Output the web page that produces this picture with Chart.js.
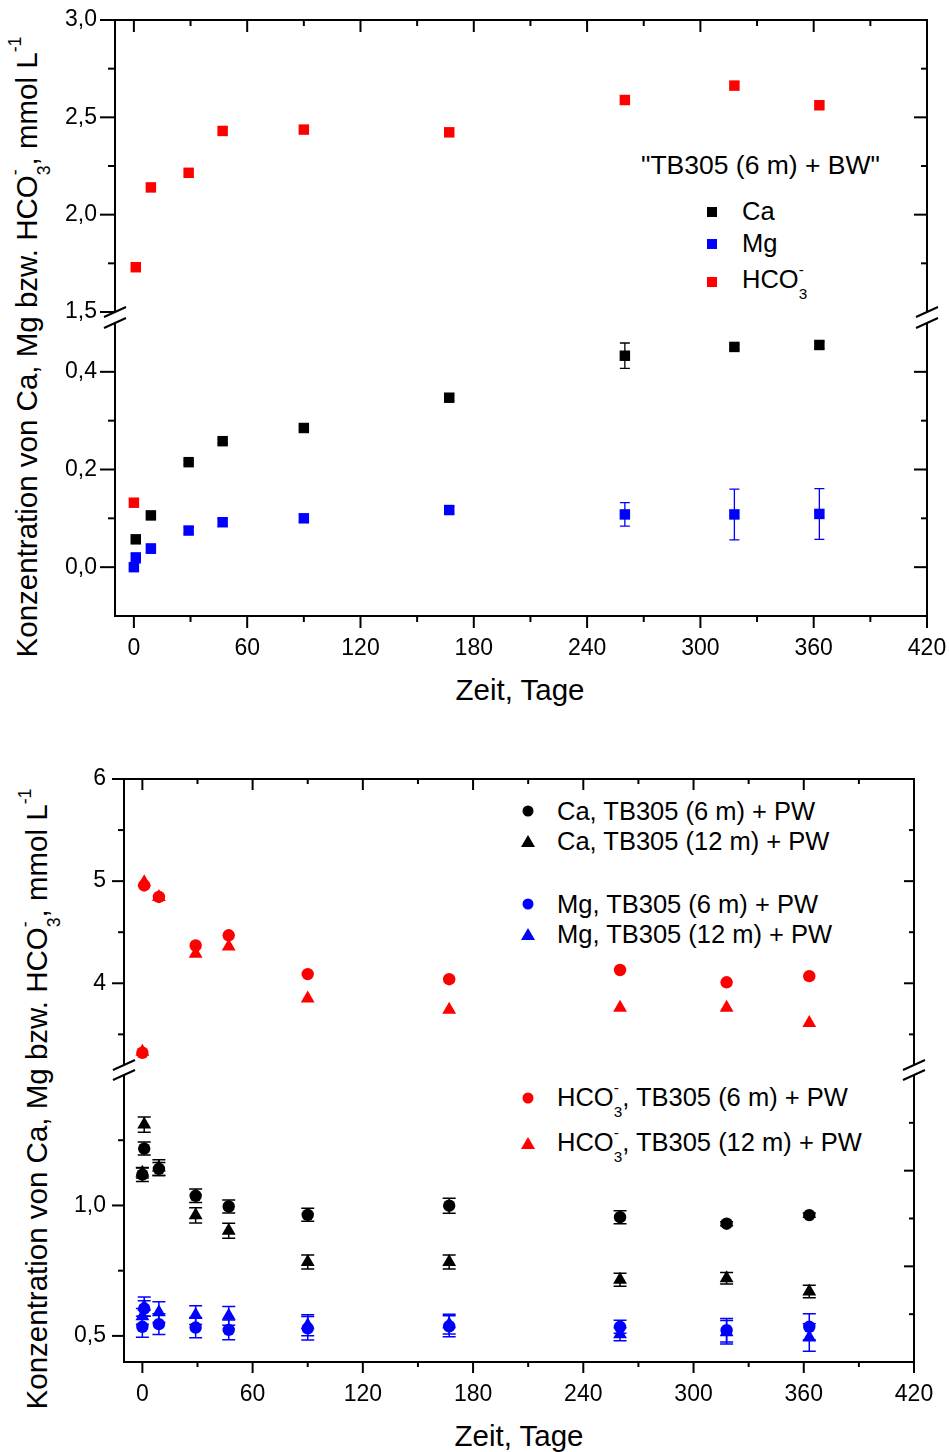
<!DOCTYPE html>
<html lang="de">
<head>
<meta charset="utf-8">
<title>Ca, Mg und HCO3 im Zeitverlauf</title>
<script src="https://cdn.jsdelivr.net/npm/chart.js@4.4.0/dist/chart.umd.min.js"></script>
<style>
  html, body { margin: 0; padding: 0; background: #fff; }
  body {
    position: relative; width: 949px; height: 1452px; overflow: hidden;
    font-family: Arial, "Liberation Sans", sans-serif; color: #000;
  }
  canvas { position: absolute; left: 0; }
  .lbl { position: absolute; white-space: nowrap; line-height: 1; font-size: 25.5px; transform: translateY(-50%); }
  .title { position: absolute; white-space: nowrap; line-height: 1; font-size: 29.5px; transform: translate(-50%, -50%); }
  .ytitle { transform: translate(-50%, -50%) rotate(-90deg); }
  .sup { font-size: .6em; line-height: 0; vertical-align: .9em; }
  .sub { font-size: .6em; line-height: 0; vertical-align: -.75em; margin-left: -.333em; }
  .mk { position: absolute; transform: translate(-50%, -50%); }
  .sq { width: 10px; height: 10px; }
  .ci { width: 11px; height: 11px; border-radius: 50%; }
  .tri { width: 0; height: 0; border-left: 7px solid transparent; border-right: 7px solid transparent; border-bottom: 12px solid; }
</style>
</head>
<body>

<!-- axis titles -->
<div class="title" style="left:520px;top:690px">Zeit, Tage</div>
<div class="title ytitle" style="left:28px;top:347px">Konzentration von Ca, Mg bzw. HCO<span class="sup">-</span><span class="sub">3</span>, mmol L<span class="sup">-1</span></div>
<div class="title" style="left:519px;top:1436px">Zeit, Tage</div>
<div class="title ytitle" style="left:38px;top:1099px">Konzentration von Ca, Mg bzw. HCO<span class="sup">-</span><span class="sub">3</span>, mmol L<span class="sup">-1</span></div>

<!-- legend, batch test with Brunnenwasser -->
<div class="lbl" style="left:641px;top:165px;font-size:26.5px">"TB305 (6 m) + BW"</div>
<div class="mk sq" style="left:712px;top:212px;background:#000"></div>
<div class="lbl" style="left:742px;top:212px">Ca</div>
<div class="mk sq" style="left:712px;top:244px;background:#0000ff"></div>
<div class="lbl" style="left:742px;top:244px">Mg</div>
<div class="mk sq" style="left:712px;top:282px;background:#ff0000"></div>
<div class="lbl" style="left:742px;top:281px">HCO<span class="sup">-</span><span class="sub">3</span></div>

<!-- legend, batch tests with Porenwasser -->
<div class="mk ci" style="left:528px;top:811px;background:#000"></div>
<div class="lbl" style="left:557px;top:812px">Ca, TB305 (6 m) + PW</div>
<div class="mk tri" style="left:528px;top:841px;color:#000"></div>
<div class="lbl" style="left:557px;top:842px">Ca, TB305 (12 m) + PW</div>
<div class="mk ci" style="left:528px;top:904px;background:#0000ff"></div>
<div class="lbl" style="left:557px;top:905px">Mg, TB305 (6 m) + PW</div>
<div class="mk tri" style="left:528px;top:934px;color:#0000ff"></div>
<div class="lbl" style="left:557px;top:935px">Mg, TB305 (12 m) + PW</div>
<div class="mk ci" style="left:528px;top:1098px;background:#ff0000"></div>
<div class="lbl" style="left:557px;top:1099px">HCO<span class="sup">-</span><span class="sub">3</span>, TB305 (6 m) + PW</div>
<div class="mk tri" style="left:528px;top:1143px;color:#ff0000"></div>
<div class="lbl" style="left:557px;top:1144px">HCO<span class="sup">-</span><span class="sub">3</span>, TB305 (12 m) + PW</div>

<script>
// --- measured data -------------------------------------------------------

// TB305 (6 m) + BW, sampling days and concentrations in mmol/L
const bwDays  = [0, 1, 9, 29, 47, 90, 167, 260, 318, 363];
const bwCa    = [null, 0.057, 0.106, 0.215, 0.258, 0.285, 0.347, 0.433, 0.451, 0.455];
const bwCaErr = [0, 0.003, 0.004, 0.004, 0.004, 0.005, 0.006, 0.026, 0.005, 0.007];
const bwMg    = [0.000, 0.019, 0.038, 0.075, 0.092, 0.100, 0.117, 0.108, 0.108, 0.109];
const bwMgErr = [0.004, 0.010, 0.009, 0.007, 0.008, 0.008, 0.008, 0.024, 0.052, 0.052];
const bwHco3  = [0.132, 1.73, 2.14, 2.215, 2.43, 2.437, 2.423, 2.589, 2.663, 2.562];

// TB305 (6 m / 12 m) + PW
const pwDays    = [0, 1, 9, 29, 47, 90, 167, 260, 318, 363];
const pwCa6     = [1.118, 1.218, 1.140, 1.037, 0.996, 0.964, 0.999, 0.955, 0.930, 0.963];
const pwCa6Err  = [0.026, 0.025, 0.025, 0.026, 0.025, 0.025, 0.029, 0.025, 0.008, 0.008];
const pwCa12    = [1.125, 1.310, 1.145, 0.962, 0.903, 0.783, 0.783, 0.715, 0.721, 0.670];
const pwCa12Err = [0.020, 0.029, 0.030, 0.029, 0.029, 0.027, 0.027, 0.025, 0.022, 0.024];
const pwMg6     = [0.535, 0.605, 0.545, 0.532, 0.523, 0.529, 0.537, 0.535, 0.522, 0.535];
const pwMg6Err  = [0.040, 0.030, 0.040, 0.039, 0.038, 0.045, 0.040, 0.025, 0.045, 0.050];
const pwMg12    = [0.575, 0.612, 0.591, 0.580, 0.577, 0.541, 0.545, 0.506, 0.514, 0.494];
const pwMg12Err = [0.030, 0.037, 0.040, 0.036, 0.036, 0.040, 0.038, 0.025, 0.045, 0.053];
const pwHco6    = [3.32, 4.958, 4.845, 4.37, 4.47, 4.09, 4.04, 4.13, 4.01, 4.07];
const pwHco12   = [3.33, 4.99, 4.845, 4.29, 4.36, 3.85, 3.74, 3.76, 3.76, 3.61];

// tick labels
const xTickLabels = [0, 60, 120, 180, 240, 300, 360, 420];
const bwHiTicks = [1.5, 2.0, 2.5, 3.0];
const bwLoTicks = [0.0, 0.2, 0.4];
const pwHiTicks = [4, 5, 6];
const pwLoTicks = [0.5, 1.0];

// --- helpers -------------------------------------------------------------

const FONT_FAMILY = 'Arial, "Liberation Sans", sans-serif';
const PAGE_W = 949;
const X_RANGE = [-10, 420];

function points(days, values, errors) {
    const out = [];
    days.forEach((d, i) => {
        if (values[i] == null) return;
        out.push({ x: d, y: values[i], e: errors ? errors[i] : 0 });
    });
    return out;
}

// multiples of step strictly inside (lo, hi), leaving out the labelled ones
function innerSteps(lo, hi, step, skip) {
    const out = [];
    for (let v = Math.ceil(lo / step - 1e-9) * step; v < hi - 1e-9; v += step) {
        const r = +v.toFixed(6);
        if (r > lo + 1e-9 && !skip.some(s => Math.abs(s - r) < 1e-6)) out.push(r);
    }
    return out;
}

function fmt(v, dec) {
    return v.toFixed(dec).replace('.', ',');
}

// --- panels --------------------------------------------------------------

const panels = [
    {
        plotX: [115, 927],
        tickFont: 23, majorLen: 15, minorLen: 7, xMajorLen: 12, xMinorLen: 6,
        capHalf: 5, errWidth: 1.3,
        segments: [
            { top: 20, bottom: 312, range: [1.5, 3.0], labels: bwHiTicks, minorStep: 0.25, dec: 1 },
            { top: 323, bottom: 616, range: [-0.1, 0.5], labels: bwLoTicks, minorStep: 0.1, dec: 1 }
        ],
        series: [
            { label: 'Ca', data: points(bwDays, bwCa, bwCaErr), color: '#000000', shape: 'rect', radius: 7.4 },
            { label: 'Mg', data: points(bwDays, bwMg, bwMgErr), color: '#0000ff', shape: 'rect', radius: 7.4 },
            { label: 'HCO3-', data: points(bwDays, bwHco3), color: '#ff0000', shape: 'rect', radius: 7.4 }
        ]
    },
    {
        plotX: [124, 914],
        tickFont: 23, majorLen: 12, minorLen: 6, xMajorLen: 11, xMinorLen: 5,
        capHalf: 6.5, errWidth: 1.5,
        segments: [
            { top: 779, bottom: 1065, range: [3.2, 6], labels: pwHiTicks, minorStep: 0.5, dec: 0 },
            { top: 1075, bottom: 1362, range: [0.4, 1.5], labels: pwLoTicks, minorStep: 0.25, dec: 1, rightSplit: 3 }
        ],
        series: [
            { label: 'Ca, TB305 (6 m) + PW', data: points(pwDays, pwCa6, pwCa6Err), color: '#000000', shape: 'circle', radius: 6.2 },
            { label: 'Ca, TB305 (12 m) + PW', data: points(pwDays, pwCa12, pwCa12Err), color: '#000000', shape: 'triangle', radius: 8 },
            { label: 'Mg, TB305 (6 m) + PW', data: points(pwDays, pwMg6, pwMg6Err), color: '#0000ff', shape: 'circle', radius: 6.2 },
            { label: 'Mg, TB305 (12 m) + PW', data: points(pwDays, pwMg12, pwMg12Err), color: '#0000ff', shape: 'triangle', radius: 8 },
            { label: 'HCO3-, TB305 (6 m) + PW', data: points(pwDays, pwHco6), color: '#ff0000', shape: 'circle', radius: 6.2 },
            { label: 'HCO3-, TB305 (12 m) + PW', data: points(pwDays, pwHco12), color: '#ff0000', shape: 'triangle', radius: 8 }
        ]
    }
];

// vertical error bars with caps, drawn under the markers
function errorBarPlugin(panel) {
    return {
        id: 'errorBars',
        beforeDatasetsDraw(chart) {
            const { ctx } = chart;
            const xs = chart.scales.x, ys = chart.scales.y;
            ctx.save();
            ctx.lineWidth = panel.errWidth;
            chart.data.datasets.forEach(ds => {
                ctx.strokeStyle = ds.pointBackgroundColor;
                ds.data.forEach(p => {
                    if (!p.e) return;
                    const px = xs.getPixelForValue(p.x);
                    const y1 = ys.getPixelForValue(p.y - p.e);
                    const y2 = ys.getPixelForValue(p.y + p.e);
                    ctx.beginPath();
                    ctx.moveTo(px, y1); ctx.lineTo(px, y2);
                    ctx.moveTo(px - panel.capHalf, y1); ctx.lineTo(px + panel.capHalf, y1);
                    ctx.moveTo(px - panel.capHalf, y2); ctx.lineTo(px + panel.capHalf, y2);
                    ctx.stroke();
                });
            });
            ctx.restore();
        }
    };
}

// axis frame with major/minor ticks and the break marks between segments
function framePlugin(panel, seg, isUpper, isLower) {
    const [lo, hi] = seg.range;
    const leftMinor = innerSteps(lo, hi, seg.minorStep, seg.labels);
    let rightMajor = seg.labels.filter(v => v > lo && v < hi);
    let rightMinor = leftMinor;
    if (seg.rightSplit) {
        const d = (hi - lo) / seg.rightSplit;
        rightMajor = [];
        rightMinor = [];
        for (let k = 0; k < seg.rightSplit; k++) {
            if (k > 0) rightMajor.push(lo + k * d);
            rightMinor.push(lo + (k + 0.5) * d);
        }
    }
    const xMinor = innerSteps(X_RANGE[0], X_RANGE[1], 30, xTickLabels);

    return {
        id: 'frame',
        afterDraw(chart) {
            const { ctx, chartArea: a } = chart;
            const xs = chart.scales.x, ys = chart.scales.y;
            const line = (x1, y1, x2, y2) => {
                ctx.beginPath(); ctx.moveTo(x1, y1); ctx.lineTo(x2, y2); ctx.stroke();
            };
            ctx.save();
            ctx.strokeStyle = '#000';
            ctx.lineWidth = 2;

            const yTop = isUpper ? a.top - 1 : a.top;
            const yBot = isLower ? a.bottom + 1 : a.bottom;
            line(a.left, yTop, a.left, yBot);
            line(a.right, yTop, a.right, yBot);

            seg.labels.forEach(v => {
                const py = ys.getPixelForValue(v);
                line(a.left - panel.majorLen, py, a.left, py);
            });
            leftMinor.forEach(v => {
                const py = ys.getPixelForValue(v);
                line(a.left - panel.minorLen, py, a.left, py);
            });
            rightMajor.forEach(v => {
                const py = ys.getPixelForValue(v);
                line(a.right - panel.majorLen + 2, py, a.right, py);
            });
            rightMinor.forEach(v => {
                const py = ys.getPixelForValue(v);
                line(a.right - panel.minorLen + 1, py, a.right, py);
            });

            if (isUpper) {
                line(a.left - 1, a.top, a.right + 1, a.top);
                xTickLabels.forEach(v => {
                    const px = xs.getPixelForValue(v);
                    line(px, a.top, px, a.top + panel.xMajorLen);
                });
                xMinor.forEach(v => {
                    const px = xs.getPixelForValue(v);
                    line(px, a.top, px, a.top + panel.xMinorLen);
                });
            }
            if (isLower) {
                line(a.left - 1, a.bottom, a.right + 1, a.bottom);
                xTickLabels.forEach(v => {
                    const px = xs.getPixelForValue(v);
                    line(px, a.bottom, px, a.bottom + panel.xMajorLen);
                });
                xMinor.forEach(v => {
                    const px = xs.getPixelForValue(v);
                    line(px, a.bottom, px, a.bottom + panel.xMinorLen);
                });
            }

            // break marks "//" on both y axes
            const yb = isUpper ? a.bottom : a.top;
            [a.left, a.right].forEach(ax => line(ax - 11, yb + 5, ax + 11, yb - 5));
            ctx.restore();
        }
    };
}

function buildSegment(panel, seg, index) {
    const isUpper = index === 0;
    const isLower = index === panel.segments.length - 1;
    const pad = 40;
    const xAxisH = 45;
    const canvasTop = seg.top - pad;
    const height = seg.bottom - canvasTop + (isLower ? xAxisH : pad);

    const canvas = document.createElement('canvas');
    canvas.width = PAGE_W;
    canvas.height = height;
    canvas.style.top = canvasTop + 'px';
    document.body.appendChild(canvas);

    const [lo, hi] = seg.range;
    const datasets = panel.series.map(s => ({
        label: s.label,
        data: s.data.filter(p => p.y >= lo && p.y <= hi),
        pointStyle: s.shape,
        pointRadius: s.radius,
        pointHoverRadius: s.radius,
        pointBackgroundColor: s.color,
        pointBorderColor: s.color,
        pointBorderWidth: 0,
        showLine: false
    }));

    const tickFont = { family: FONT_FAMILY, size: panel.tickFont };

    return new Chart(canvas, {
        type: 'scatter',
        data: { datasets },
        options: {
            responsive: false,
            animation: false,
            events: [],
            clip: false,
            layout: {
                autoPadding: false,
                padding: { left: 0, right: PAGE_W - panel.plotX[1], top: pad, bottom: isLower ? 0 : pad }
            },
            plugins: {
                legend: { display: false },
                tooltip: { enabled: false }
            },
            scales: {
                x: {
                    type: 'linear',
                    min: X_RANGE[0],
                    max: X_RANGE[1],
                    display: isLower,
                    grid: { display: false, drawTicks: false },
                    border: { display: false },
                    ticks: { font: tickFont, color: '#000', padding: 19, maxRotation: 0, autoSkip: false },
                    afterBuildTicks: axis => { axis.ticks = xTickLabels.map(v => ({ value: v })); },
                    afterFit: axis => {
                        axis.height = isLower ? xAxisH : 0;
                        axis.paddingLeft = 0;
                        axis.paddingRight = 0;
                    }
                },
                y: {
                    type: 'linear',
                    min: lo,
                    max: hi,
                    grid: { display: false, drawTicks: false },
                    border: { display: false },
                    ticks: {
                        font: tickFont, color: '#000', padding: 18, autoSkip: false,
                        callback: v => fmt(v, seg.dec)
                    },
                    afterBuildTicks: axis => { axis.ticks = seg.labels.map(v => ({ value: v })); },
                    afterFit: axis => {
                        axis.width = panel.plotX[0];
                        axis.paddingTop = 0;
                        axis.paddingBottom = 0;
                    }
                }
            }
        },
        plugins: [errorBarPlugin(panel), framePlugin(panel, seg, isUpper, isLower)]
    });
}

panels.forEach(panel => {
    panel.segments.forEach((seg, i) => buildSegment(panel, seg, i));
});
</script>
</body>
</html>
